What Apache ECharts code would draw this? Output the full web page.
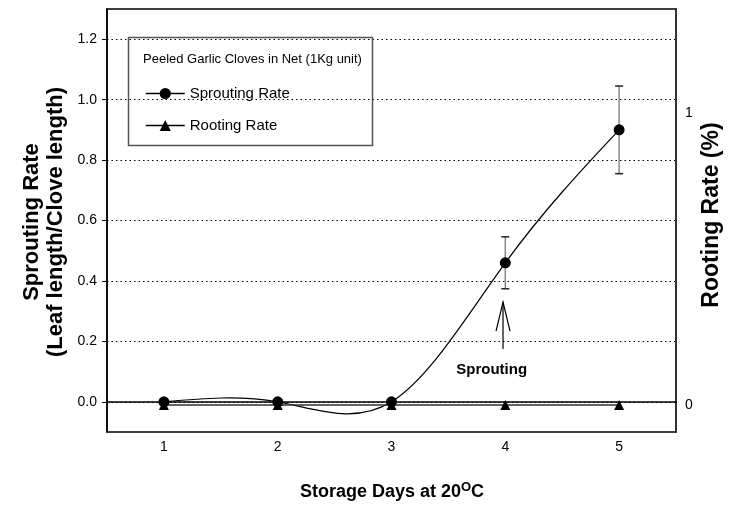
<!DOCTYPE html>
<html>
<head>
<meta charset="utf-8">
<script src="https://cdn.jsdelivr.net/npm/echarts@6/dist/echarts.min.js"></script>
<style>
  html, body { margin: 0; padding: 0; background: #fff; }
  #chart { width: 732px; height: 516px; }
</style>
</head>
<body>
<div id="chart"></div>
<script>
// Storage days at 20 °C
const days = [1, 2, 3, 4, 5];
// Sprouting rate (leaf length / clove length), mean and error
const sprouting = [0, 0, 0, 0.46, 0.90];
const sproutingErr = [0, 0, 0, 0.086, 0.145];
// Rooting rate (%)
const rooting = [0, 0, 0, 0, 0];
// Tick values
const leftTicks = [0, 0.2, 0.4, 0.6, 0.8, 1.0, 1.2];
const rightTicks = [0, 1];

const FONT = '"Liberation Sans", Arial, sans-serif';

// Second derivatives of a natural cubic spline through (xs, ys),
// used to draw the sprouting curve as Bezier segments.
function naturalSplineM(xs, ys) {
  const n = xs.length;
  const M = new Array(n).fill(0);
  if (n < 3) return M;
  const a = [], b = [], c = [], r = [];
  for (let i = 1; i < n - 1; i++) {
    const h0 = xs[i] - xs[i - 1], h1 = xs[i + 1] - xs[i];
    a.push(h0 / 6);
    b.push((h0 + h1) / 3);
    c.push(h1 / 6);
    r.push((ys[i + 1] - ys[i]) / h1 - (ys[i] - ys[i - 1]) / h0);
  }
  const m = b.length;
  for (let i = 1; i < m; i++) {
    const w = a[i] / b[i - 1];
    b[i] -= w * c[i - 1];
    r[i] -= w * r[i - 1];
  }
  const sol = new Array(m);
  sol[m - 1] = r[m - 1] / b[m - 1];
  for (let i = m - 2; i >= 0; i--) sol[i] = (r[i] - c[i] * sol[i + 1]) / b[i];
  for (let i = 0; i < m; i++) M[i + 1] = sol[i];
  return M;
}
const sproutingM = naturalSplineM(days, sprouting);

const chart = echarts.init(document.getElementById('chart'), null, { renderer: 'canvas' });

const errData = days
  .map((d, i) => [d, sprouting[i] - sproutingErr[i], sprouting[i] + sproutingErr[i], sproutingErr[i]])
  .filter(r => r[3] > 0);

chart.setOption({
  animation: false,
  backgroundColor: '#fff',
  textStyle: { fontFamily: FONT },
  grid: {
    left: 107, right: 56, top: 9, bottom: 84,
    show: true, borderColor: '#000', borderWidth: 1.5, backgroundColor: 'transparent'
  },
  legend: {
    orient: 'vertical',
    left: 140, top: 81,
    itemWidth: 39, itemHeight: 14, itemGap: 17,
    textStyle: { fontFamily: FONT, fontSize: 15, color: '#000' },
    data: [
      { name: 'Sprouting Rate', lineStyle: { opacity: 1, color: '#000', width: 1.5 } },
      { name: 'Rooting Rate', lineStyle: { opacity: 1, color: '#000', width: 1.5 } }
    ]
  },
  xAxis: {
    type: 'value', min: 0.5, max: 5.5,
    axisLine: { show: true, lineStyle: { color: '#000', width: 1.5 } },
    axisTick: { show: true, customValues: days, length: 5, lineStyle: { color: '#000' } },
    axisLabel: { customValues: days, margin: 8, fontSize: 14, color: '#000', fontFamily: FONT },
    splitLine: { show: false }
  },
  yAxis: [
    {
      type: 'value', min: -0.1, max: 1.3,
      axisLine: { show: true, lineStyle: { color: '#000', width: 1.5 } },
      axisTick: { show: true, customValues: leftTicks, length: 5, lineStyle: { color: '#000' } },
      axisLabel: {
        customValues: leftTicks, margin: 10, fontSize: 14, color: '#000', fontFamily: FONT,
        formatter: v => v.toFixed(1)
      },
      splitLine: { show: true, lineStyle: { color: '#000', type: [1.5, 3], width: 1 } }
    },
    {
      type: 'value', min: -0.0925, max: 1.356, position: 'right',
      axisLine: { show: true, lineStyle: { color: '#333', width: 2 } },
      axisTick: { show: false, customValues: rightTicks },
      axisLabel: { customValues: rightTicks, margin: 9, fontSize: 14, color: '#000', fontFamily: FONT },
      splitLine: { show: false }
    }
  ],
  series: [
    {
      name: 'Sprouting error',
      type: 'custom',
      yAxisIndex: 0,
      z: 2,
      silent: true,
      data: errData,
      renderItem: (params, api) => {
        const x = api.value(0);
        const lo = api.coord([x, api.value(1)]);
        const hi = api.coord([x, api.value(2)]);
        const cap = 4;
        return {
          type: 'group',
          children: [
            { type: 'line', shape: { x1: hi[0], y1: hi[1], x2: lo[0], y2: lo[1] },
              style: { stroke: '#888', lineWidth: 1.5 } },
            { type: 'line', shape: { x1: hi[0] - cap, y1: hi[1], x2: hi[0] + cap, y2: hi[1] },
              style: { stroke: '#222', lineWidth: 1.5 } },
            { type: 'line', shape: { x1: lo[0] - cap, y1: lo[1], x2: lo[0] + cap, y2: lo[1] },
              style: { stroke: '#222', lineWidth: 1.5 } }
          ]
        };
      }
    },
    {
      // spline curve through the sprouting means, one Bezier segment per interval
      name: 'Sprouting curve',
      type: 'custom',
      yAxisIndex: 0,
      z: 3,
      silent: true,
      data: days.map((d, i) => [d, sprouting[i]]),
      renderItem: (params, api) => {
        const i = params.dataIndex;
        if (i >= days.length - 1) return { type: 'group', children: [] };
        const x0 = days[i], x1 = days[i + 1];
        const y0 = sprouting[i], y1 = sprouting[i + 1];
        const h = x1 - x0;
        const d0 = (y1 - y0) / h - h * (2 * sproutingM[i] + sproutingM[i + 1]) / 6;
        const d1 = (y1 - y0) / h + h * (sproutingM[i] + 2 * sproutingM[i + 1]) / 6;
        const p0 = api.coord([x0, y0]);
        const c1 = api.coord([x0 + h / 3, y0 + d0 * h / 3]);
        const c2 = api.coord([x1 - h / 3, y1 - d1 * h / 3]);
        const p1 = api.coord([x1, y1]);
        return {
          type: 'bezierCurve',
          shape: { x1: p0[0], y1: p0[1], cpx1: c1[0], cpy1: c1[1], cpx2: c2[0], cpy2: c2[1], x2: p1[0], y2: p1[1] },
          style: { stroke: '#000', lineWidth: 1.2, fill: null }
        };
      }
    },
    {
      name: 'Rooting Rate',
      type: 'line',
      yAxisIndex: 1,
      z: 4,
      data: days.map((d, i) => [d, rooting[i]]),
      symbol: 'triangle',
      symbolSize: 10,
      lineStyle: { color: '#333', width: 1.5 },
      itemStyle: { color: '#000' }
    },
    {
      name: 'Sprouting Rate',
      type: 'line',
      yAxisIndex: 0,
      z: 5,
      data: days.map((d, i) => [d, sprouting[i]]),
      symbol: 'circle',
      symbolSize: 11,
      lineStyle: { opacity: 0 },
      itemStyle: { color: '#000' }
    }
  ]
});

// Annotation: arrow and label marking the start of sprouting
const arrowBase = chart.convertToPixel({ xAxisIndex: 0, yAxisIndex: 0 }, [3.98, 0.175]);
const arrowTip = chart.convertToPixel({ xAxisIndex: 0, yAxisIndex: 0 }, [3.98, 0.33]);
const labelPos = chart.convertToPixel({ xAxisIndex: 0, yAxisIndex: 0 }, [3.88, 0.105]);

chart.setOption({
  graphic: [
    // legend frame and heading
    { type: 'rect', left: 126, top: 35, shape: { width: 244, height: 108 },
      style: { fill: 'none', stroke: '#555', lineWidth: 1.5 }, z: 10 },
    { type: 'text', left: 143, top: 53,
      style: { text: 'Peeled Garlic Cloves in Net (1Kg unit)', font: '13px ' + FONT, fill: '#000' }, z: 10 },
    // arrow
    { type: 'polyline', shape: { points: [arrowBase, arrowTip] },
      style: { stroke: '#000', lineWidth: 1.2, fill: null }, z: 10 },
    { type: 'polyline', shape: { points: [[arrowTip[0] - 7, arrowTip[1] + 29], arrowTip, [arrowTip[0] + 7, arrowTip[1] + 29]] },
      style: { stroke: '#000', lineWidth: 1.2, fill: null }, z: 10 },
    { type: 'text', x: labelPos[0], y: labelPos[1],
      style: { text: 'Sprouting', font: 'bold 15px ' + FONT, fill: '#000', align: 'center', verticalAlign: 'middle' }, z: 10 },
    // axis titles
    { type: 'text', x: 392, y: 492,
      style: {
        text: 'Storage Days at 20{sup|O}C',
        font: 'bold 18px ' + FONT, fill: '#000', align: 'center', verticalAlign: 'middle',
        rich: { sup: { font: 'bold 13px ' + FONT, fill: '#000', padding: [0, 0, 10, 0] } }
      }, z: 10 },
    { type: 'text', x: 44, y: 222, rotation: Math.PI / 2,
      style: {
        text: 'Sprouting Rate\n(Leaf length/Clove length)',
        font: 'bold 22px ' + FONT, fill: '#000', align: 'center', verticalAlign: 'middle', lineHeight: 24
      }, z: 10 },
    { type: 'text', x: 712, y: 215, rotation: Math.PI / 2,
      style: {
        text: 'Rooting Rate (%)',
        font: 'bold 23px ' + FONT, fill: '#000', align: 'center', verticalAlign: 'middle'
      }, z: 10 }
  ]
});
</script>
</body>
</html>
